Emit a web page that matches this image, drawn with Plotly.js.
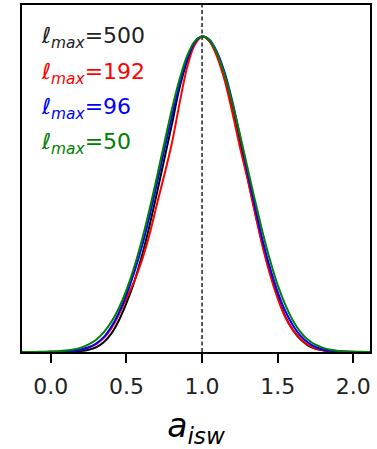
<!DOCTYPE html>
<html>
<head>
<meta charset="utf-8">
<script src="https://cdn.plot.ly/plotly-3.0.1.min.js"></script>
<style>html,body{margin:0;padding:0;background:#fff;}#chart{width:377px;height:449px;}</style>
</head>
<body>
<div id="chart"></div>
<script>
// x grid of the curves (a_isw)
const xs = [-0.2,-0.15,-0.1,-0.05,0,0.05,0.1,0.15,0.2,0.25,0.3,0.35,0.4,0.45,0.5,0.55,0.6,0.65,0.7,0.75,0.8,0.85,0.9,0.95,
  1.0,1.05,1.1,1.15,1.2,1.25,1.3,1.35,1.4,1.45,1.5,1.55,1.6,1.65,1.7,1.75,1.8,1.85,1.9,1.95,2.0,2.05,2.1,2.15,2.2];

// normalized posteriors
const y500 = [0,0,0,0,0,0.0002,0.0005,0.0013,0.003,0.007,0.015,0.031,0.058,0.10,0.155,0.22,0.30,0.395,0.5,0.61,0.72,0.835,0.92,0.98,
  1.0,0.985,0.94,0.87,0.77,0.66,0.555,0.445,0.34,0.25,0.175,0.113,0.07,0.04,0.021,0.01,0.005,0.002,0.001,0.0004,0.0001,0,0,0,0];
const y192 = [0,0,0.0001,0.0002,0.0005,0.001,0.002,0.004,0.0075,0.014,0.025,0.044,0.075,0.118,0.17,0.222,0.287,0.368,0.465,0.56,0.66,0.785,0.9,0.972,
  1.0,0.985,0.935,0.86,0.76,0.65,0.55,0.44,0.335,0.245,0.17,0.11,0.07,0.042,0.023,0.012,0.006,0.003,0.0015,0.0007,0.0003,0.0001,0,0,0];
const y96 = [0,0,0.0001,0.0002,0.0005,0.001,0.002,0.004,0.008,0.015,0.027,0.047,0.08,0.125,0.182,0.25,0.33,0.425,0.53,0.64,0.745,0.845,0.925,0.98,
  1.0,0.99,0.95,0.885,0.795,0.685,0.57,0.46,0.355,0.265,0.19,0.13,0.085,0.052,0.03,0.016,0.008,0.004,0.002,0.001,0.0004,0.0002,0.0001,0,0];
const y50 = [0,0.0001,0.0003,0.0006,0.0012,0.0024,0.0045,0.008,0.014,0.024,0.039,0.062,0.095,0.139,0.196,0.266,0.350,0.446,0.551,0.661,0.768,0.862,0.937,0.984,
  1.0,0.988,0.945,0.878,0.79,0.69,0.585,0.48,0.38,0.29,0.212,0.15,0.10,0.064,0.039,0.023,0.013,0.007,0.0035,0.0017,0.0008,0.0004,0.0002,0.0001,0];

const labels = ['500','192','96','50'];
const colors = ['#000000','#ff0000','#0000ff','#008000'];
const series = [y500, y192, y96, y50];
const tickVals = [0.0,0.5,1.0,1.5,2.0];
const tickText = ['0.0','0.5','1.0','1.5','2.0'];

const traces = series.map((ys,i)=>({
  x: xs, y: ys, type:'scatter', mode:'lines',
  line:{color:colors[i], width:2, shape:'spline', smoothing:0.8},
  showlegend:false, hoverinfo:'skip'
}));

const annotations = labels.map((lab,i)=>({
  xref:'paper', yref:'paper', x:0.05, y:0.953 - i*0.1015, xanchor:'left', yanchor:'top',
  text:'<i>ℓ</i><sub><i>max</i></sub>=' + lab, showarrow:false,
  font:{family:'DejaVu Sans', size:22, color: i===0 ? '#222222' : colors[i]}
}));

const layout = {
  width:377, height:449,
  margin:{l:22, r:7, t:5, b:97},
  paper_bgcolor:'#ffffff', plot_bgcolor:'#ffffff',
  font:{family:'DejaVu Sans', color:'#222222'},
  xaxis:{
    range:[-0.19,2.11], tickvals:tickVals, ticktext:tickText,
    ticks:'outside', ticklen:9, tickwidth:2, tickcolor:'#000',
    ticklabelstandoff:5,
    showline:true, linecolor:'#000', linewidth:2, mirror:true,
    showgrid:false, zeroline:false,
    tickfont:{family:'DejaVu Sans', size:22, color:'#222222'},
    title:{text:'<i>a</i><sub><i>isw</i></sub>', font:{family:'DejaVu Sans', size:33, color:'#000'}, standoff:22}
  },
  yaxis:{
    range:[0,1.1], showticklabels:false, ticks:'',
    showline:true, linecolor:'#000', linewidth:2, mirror:true,
    showgrid:false, zeroline:false
  },
  shapes:[{type:'line', xref:'x', yref:'paper', x0:1.0, x1:1.0, y0:0, y1:1,
    line:{color:'#000', width:1.3, dash:'4px,2.5px'}, layer:'below'}],
  annotations: annotations
};

Plotly.newPlot('chart', traces, layout, {displayModeBar:false, staticPlot:true});
</script>
</body>
</html>
